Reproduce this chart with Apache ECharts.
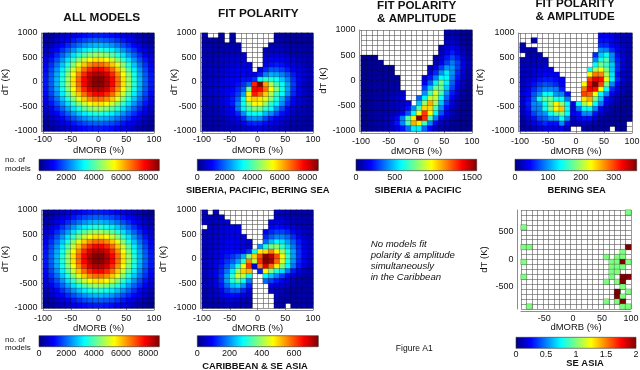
<!DOCTYPE html>
<html><head><meta charset="utf-8">
<script src="https://cdn.jsdelivr.net/npm/echarts@6/dist/echarts.min.js"></script>
<style>html,body{margin:0;padding:0;background:#fff}#c{width:640px;height:370px}</style>
</head><body><div id="c"></div>
<script>
const _ = null;
// bin centres (categories)
const dMorbBins = [-95,-85,-75,-65,-55,-45,-35,-25,-15,-5,5,15,25,35,45,55,65,75,85,95];
const dTBins = [950,850,750,650,550,450,350,250,150,50,-50,-150,-250,-350,-450,-550,-650,-750,-850,-950];
const seAsiaDMorbBins = [-85,-76,-66,-57,-47,-38,-28,-19,-9,0,10,19,29,38,48,57,67,76,86,95];
const seAsiaDTBins = [855,765,675,585,495,405,315,225,135,45,-45,-135,-225,-315,-405,-495,-585,-675,-765,-855];

// colour-bar ranges
const allModelsMax = 8800, allModelsStep = 2000;
const fitPolarityMax = 8800, fitPolarityStep = 2000;
const sibPacMax = 1560, sibPacStep = 500;
const beringMax = 370, beringStep = 100;
const carSeaMax = 750, carSeaStep = 200;
const seAsiaMax = 2, seAsiaStep = 0.5;

// number of models per cell, rows from dT=950 (top) to dT=-950 (bottom)
const allModels = [
[200,290,410,540,700,860,1020,1160,1260,1310,1310,1260,1160,1020,860,700,540,410,290,200],
[290,420,590,790,1020,1260,1490,1690,1840,1910,1910,1840,1690,1490,1260,1020,790,590,420,290],
[410,590,830,1110,1430,1760,2080,2360,2570,2680,2680,2570,2360,2080,1760,1430,1110,830,590,410],
[540,790,1110,1490,1920,2360,2800,3170,3450,3600,3600,3450,3170,2800,2360,1920,1490,1110,790,540],
[700,1020,1430,1920,2460,3040,3600,4080,4440,4630,4630,4440,4080,3600,3040,2460,1920,1430,1020,700],
[860,1260,1760,2360,3040,3750,4440,5040,5480,5720,5720,5480,5040,4440,3750,3040,2360,1760,1260,860],
[1020,1490,2080,2800,3600,4440,5260,5960,6490,6770,6770,6490,5960,5260,4440,3600,2800,2080,1490,1020],
[1160,1690,2360,3170,4080,5040,5960,6770,7360,7680,7680,7360,6770,5960,5040,4080,3170,2360,1690,1160],
[1260,1840,2570,3450,4440,5480,6490,7360,8010,8350,8350,8010,7360,6490,5480,4440,3450,2570,1840,1260],
[1310,1910,2680,3600,4630,5720,6770,7680,8350,8710,8710,8350,7680,6770,5720,4630,3600,2680,1910,1310],
[1310,1910,2680,3600,4630,5720,6770,7680,8350,8710,8710,8350,7680,6770,5720,4630,3600,2680,1910,1310],
[1260,1840,2570,3450,4440,5480,6490,7360,8010,8350,8350,8010,7360,6490,5480,4440,3450,2570,1840,1260],
[1160,1690,2360,3170,4080,5040,5960,6770,7360,7680,7680,7360,6770,5960,5040,4080,3170,2360,1690,1160],
[1020,1490,2080,2800,3600,4440,5260,5960,6490,6770,6770,6490,5960,5260,4440,3600,2800,2080,1490,1020],
[860,1260,1760,2360,3040,3750,4440,5040,5480,5720,5720,5480,5040,4440,3750,3040,2360,1760,1260,860],
[700,1020,1430,1920,2460,3040,3600,4080,4440,4630,4630,4440,4080,3600,3040,2460,1920,1430,1020,700],
[540,790,1110,1490,1920,2360,2800,3170,3450,3600,3600,3450,3170,2800,2360,1920,1490,1110,790,540],
[410,590,830,1110,1430,1760,2080,2360,2570,2680,2680,2570,2360,2080,1760,1430,1110,830,590,410],
[290,420,590,790,1020,1260,1490,1690,1840,1910,1910,1840,1690,1490,1260,1020,790,590,420,290],
[200,290,410,540,700,860,1020,1160,1260,1310,1310,1260,1160,1020,860,700,540,410,290,200]
];

const fitPolarity = [
[300,_,_,300,_,300,_,_,_,_,_,_,_,300,300,300,250,250,200,200],
[300,300,300,300,_,300,_,_,_,_,_,_,_,350,350,300,300,250,250,200],
[350,350,350,350,350,400,400,_,_,_,_,_,450,450,400,400,350,300,300,250],
[400,400,400,400,450,450,500,_,_,_,_,550,550,550,500,450,400,350,300,300],
[400,450,450,500,500,550,600,650,_,_,_,700,750,750,700,600,500,450,400,350],
[450,450,500,550,600,650,700,750,_,_,_,900,1000,1000,950,800,700,550,450,400],
[450,500,550,600,650,750,800,850,850,_,_,1000,1200,1300,1200,1000,850,700,550,450],
[500,550,600,650,750,850,950,1000,950,_,800,1400,1800,1800,1600,1300,1000,800,600,500],
[500,550,650,700,800,900,1000,1050,900,900,1300,2200,2600,2500,2200,1800,1300,950,700,550],
[500,600,650,750,850,950,1100,1200,1200,1500,3300,3700,3600,3400,2800,2200,1500,1000,650,500],
[500,600,700,800,900,1000,1200,1500,2000,7400,8800,6300,4800,3800,3300,2500,1600,950,600,450],
[500,600,700,800,900,1100,1400,1900,4300,7800,7700,6700,5500,4500,3500,2500,1500,900,600,450],
[500,600,700,800,1000,1200,1600,2500,5600,7500,6900,5900,4800,3800,3300,2300,1400,850,600,450],
[450,550,650,800,1000,1300,1900,3300,5600,5900,5700,5200,4500,3500,2600,1700,1100,750,550,400],
[450,500,600,750,950,1300,2200,3400,4600,5500,5400,4600,3700,3200,2300,1500,1000,650,500,400],
[400,450,550,650,850,1100,2100,3200,3900,4400,4300,3700,3300,2400,1700,1100,750,550,450,350],
[350,400,500,600,750,950,1400,2300,3200,3400,3300,2700,2300,1700,1200,850,600,450,400,350],
[350,400,450,500,600,750,1000,1400,2200,2400,2300,1700,1300,1000,800,650,500,400,350,300],
[300,350,400,450,500,600,700,950,1300,1400,1350,1150,950,750,600,500,400,350,300,300],
[300,300,350,400,450,500,550,650,750,850,850,750,650,550,450,400,350,300,300,250]
];

const sibPac = [
[_,_,_,_,_,_,_,_,_,_,_,_,_,_,_,55,70,55,35,30],
[_,_,_,_,_,_,_,_,_,_,_,_,_,_,_,68,90,68,40,30],
[_,_,_,_,_,_,_,_,_,_,_,_,_,_,_,90,120,90,54,30],
[_,_,_,_,_,_,_,_,_,_,_,_,_,_,77,128,170,128,77,43],
[_,_,_,_,_,_,_,_,_,_,_,_,_,_,104,173,230,173,104,58],
[30,30,30,_,_,_,_,_,_,_,_,_,_,75,135,225,300,225,135,75],
[30,30,35,35,_,_,_,_,_,_,_,_,_,95,171,285,380,285,171,95],
[30,35,35,40,40,40,_,_,_,_,_,_,85,165,282,423,423,282,165,85],
[35,35,40,40,45,45,_,_,_,_,_,_,140,252,420,560,420,252,140,73],
[35,40,40,45,50,50,50,_,_,_,_,117,228,390,585,585,390,228,117,60],
[35,40,45,50,55,55,60,_,_,_,_,190,342,570,760,570,342,190,99,53],
[35,40,45,50,60,65,70,_,_,_,_,294,504,756,756,504,294,151,76,40],
[35,40,45,55,65,75,90,110,_,_,_,414,690,920,690,414,230,120,64,40],
[35,40,50,55,70,85,110,150,_,_,343,588,882,882,588,343,176,88,50,35],
[35,40,50,60,75,90,100,110,150,_,495,825,1100,825,495,275,143,77,45,35],
[35,40,50,60,70,80,95,120,210,403,690,1035,1035,690,403,207,104,55,40,30],
[30,40,50,60,70,85,100,170,320,576,960,1280,960,576,320,166,90,50,35,30],
[30,40,50,65,80,110,200,390,700,1000,1560,1300,700,390,200,110,60,40,30,30],
[30,40,50,65,85,120,220,400,690,1100,1000,690,400,200,100,60,40,30,30,30],
[30,35,45,60,75,100,150,220,360,560,560,360,200,100,55,40,30,30,30,30]
];

const bering = [
[_,_,_,_,_,_,_,_,_,_,_,_,_,_,40,40,35,25,20,20],
[_,_,15,_,_,_,_,_,_,_,_,_,_,_,50,50,40,30,25,20],
[15,_,_,_,_,_,_,_,_,_,_,_,_,_,60,60,45,35,25,20],
[15,15,15,_,_,_,_,_,_,_,_,_,_,_,95,90,60,40,30,20],
[_,15,20,20,_,_,_,_,_,_,_,_,_,60,120,140,95,50,30,20],
[15,20,20,25,25,_,_,_,_,_,_,_,_,95,145,170,100,55,35,20],
[20,20,25,30,30,_,_,_,_,_,_,_,_,140,180,160,120,60,35,20],
[20,25,30,35,35,35,_,_,_,_,_,_,140,200,225,185,120,60,30,20],
[20,25,30,40,45,45,40,_,_,_,_,_,230,280,275,200,130,50,25,20],
[20,30,40,50,55,55,50,45,_,_,_,_,300,330,320,225,135,60,30,20],
[25,35,50,65,75,70,60,45,_,_,_,230,320,370,300,185,95,45,25,15],
[25,40,60,80,95,95,90,55,_,_,_,280,330,320,230,140,60,35,20,15],
[30,45,75,100,140,140,100,95,50,_,_,300,290,230,140,95,40,25,15,10],
[30,50,85,140,170,180,145,140,90,_,_,240,260,180,120,50,30,20,15,10],
[30,55,95,100,145,185,235,190,140,40,140,200,230,140,90,35,20,15,10,10],
[25,50,90,95,140,185,235,250,140,35,90,140,140,95,45,25,15,10,10,10],
[20,40,70,90,100,140,170,185,140,40,50,95,95,50,25,15,10,10,10,10],
[15,30,50,70,80,100,100,140,95,25,40,50,50,30,15,10,10,10,10,10],
[10,20,35,50,60,50,50,95,50,20,20,25,20,15,10,10,10,10,10,_],
[10,15,20,30,35,35,35,40,25,_,_,15,10,10,10,10,_,10,10,_]
];

const carSea = [
[40,_,40,_,_,_,_,_,_,_,_,_,_,40,40,40,30,30,30,30],
[40,40,40,50,_,_,_,_,_,_,_,_,_,50,50,45,40,35,30,30],
[40,45,50,55,60,_,_,_,_,_,_,_,70,70,65,55,45,40,35,30],
[_,45,50,60,65,70,70,_,_,_,_,_,90,100,95,80,65,50,40,35],
[40,50,55,65,70,75,75,_,_,_,_,90,120,140,140,120,95,70,50,40],
[40,50,60,70,75,80,80,70,_,_,_,120,160,190,190,165,125,90,60,45],
[40,50,60,70,80,85,80,70,60,_,_,170,230,280,260,210,160,110,70,50],
[40,50,65,75,85,90,85,75,60,_,200,300,360,380,320,250,180,120,80,55],
[45,55,70,85,95,100,100,100,130,300,480,500,560,480,400,300,210,130,85,55],
[45,55,70,90,110,130,160,220,380,500,600,740,700,600,460,320,210,130,85,55],
[45,55,75,100,130,160,210,320,560,420,620,750,720,580,440,300,200,120,80,50],
[45,60,80,110,150,210,300,460,620,60,560,680,580,480,380,280,180,110,70,45],
[45,60,85,120,180,270,400,500,520,_,120,470,380,300,260,180,110,70,45,35],
[45,60,85,130,210,320,440,420,300,_,_,280,240,190,140,95,65,45,35,30],
[40,55,80,125,210,300,350,290,180,_,_,170,140,110,85,60,45,35,30,30],
[40,50,70,110,170,230,250,200,120,_,_,_,80,65,55,45,35,30,30,30],
[35,45,60,90,130,160,160,120,80,_,_,_,55,45,40,35,30,30,30,30],
[30,40,50,70,90,100,95,75,55,_,_,_,_,40,35,30,30,30,30,30],
[30,35,40,50,60,65,60,50,40,_,_,_,_,35,30,30,30,30,30,30],
[30,30,35,40,45,45,45,40,35,_,_,_,_,30,30,_,30,30,30,30]
];

const seAsia = [
[_,_,_,_,_,_,_,_,_,_,_,_,_,_,_,_,_,_,_,1],
[_,_,_,_,_,_,_,_,_,_,_,_,_,_,_,_,_,_,_,_],
[_,_,_,_,_,_,_,_,_,_,_,_,_,_,_,_,_,_,_,_],
[1,_,_,_,_,_,_,_,_,_,_,_,_,_,_,_,_,_,_,_],
[_,_,_,_,_,_,_,_,_,_,_,_,_,_,_,_,_,_,_,_],
[_,_,_,_,_,_,_,_,_,_,_,_,_,_,_,_,_,_,_,_],
[_,_,_,_,_,_,_,_,_,_,_,_,_,_,_,_,_,_,_,_],
[1,1,_,_,_,_,_,_,_,_,_,_,_,_,_,_,_,_,_,2],
[_,_,_,_,_,_,_,_,_,_,_,_,_,_,_,_,_,_,1,_],
[_,_,_,_,_,_,_,_,_,_,_,_,_,_,_,1,_,1,1,_],
[1,_,_,_,_,_,_,_,_,_,_,_,_,_,_,_,1,1,2,1],
[_,_,_,_,_,_,_,_,_,_,_,_,_,_,_,_,1,1,1,_],
[_,_,_,_,_,_,_,_,_,_,_,_,_,_,_,_,1,1,_,_],
[1,_,_,_,_,_,_,_,_,_,_,_,_,_,_,_,1,_,2,2],
[_,_,_,_,_,_,_,_,_,_,_,_,_,_,_,1,_,1,2,_],
[_,_,_,_,_,_,_,_,_,_,_,_,_,_,_,_,_,_,1,_],
[_,_,_,_,_,_,_,_,_,_,_,_,_,_,_,_,_,2,_,1],
[_,_,_,_,_,_,_,_,_,_,_,_,_,_,_,_,_,2,1,_],
[_,_,_,_,_,_,_,_,_,_,_,_,_,_,_,1,_,1,2,_],
[_,1,_,_,_,_,_,_,_,_,_,_,_,_,_,_,_,_,1,1]
];

const jet = ['#00007F','#0000FF','#007FFF','#00FFFF','#7FFF7F','#FFFF00','#FF7F00','#FF0000','#7F0000'];
const FONT = "'Liberation Sans', Arial, Helvetica, sans-serif";
const TXT = '#111';
const AXC = '#8a8d99';

const panels = [
  {data: allModels, max: allModelsMax, rect: [43,33,111,98], xm: 2, xg: 12, yg: 31},
  {data: fitPolarity, max: fitPolarityMax, rect: [202,33,111,98], xm: 2, xg: 12, yg: 21},
  {data: sibPac, max: sibPacMax, rect: [361,30,111,101], xm: 4, xg: 13, yg: 30.5},
  {data: bering, max: beringMax, rect: [520,33,112,98], xm: 4, xg: 13, yg: 32.5},
  {data: allModels, max: allModelsMax, rect: [43,210,111,98], xm: 4.5, xg: 13.5, yg: 31},
  {data: carSea, max: carSeaMax, rect: [202,210,111,98], xm: 4.5, xg: 13.5, yg: 31.5},
  {data: seAsia, max: seAsiaMax, rect: [521,210,110,99], xm: 3, xg: 11, yg: 28, se: true}
];

const colorbars = [
  {rect: [39,159.3,120.3,11.4], max: allModelsMax, step: allModelsStep},
  {rect: [197.3,159.3,121,11.4], max: fitPolarityMax, step: fitPolarityStep},
  {rect: [356,159.3,120.7,11.4], max: sibPacMax, step: sibPacStep},
  {rect: [515,159.3,121.7,11.4], max: beringMax, step: beringStep},
  {rect: [39,335.7,120.3,11], max: allModelsMax, step: allModelsStep},
  {rect: [197.3,335.7,121,11], max: carSeaMax, step: carSeaStep},
  {rect: [516,337.3,120,11], max: seAsiaMax, step: seAsiaStep}
];

const grids = [], xAxes = [], yAxes = [], series = [], visualMaps = [];

panels.forEach(p => {
  const gi = grids.length;
  grids.push({left: p.rect[0], top: p.rect[1], width: p.rect[2], height: p.rect[3], containLabel: false, outerBoundsMode: 'none'});
  const xBins = p.se ? seAsiaDMorbBins : dMorbBins;
  const yBins = p.se ? seAsiaDTBins : dTBins;
  const catLine = {show: true, interval: 0, lineStyle: {color: '#555', width: 0.6}};
  const xc = xAxes.length;
  xAxes.push({gridIndex: gi, type: 'category', position: 'top', data: xBins.map(String), boundaryGap: true,
    axisLine: {show: false}, axisTick: {show: false, interval: 0}, axisLabel: {show: false, interval: 0}, splitLine: catLine, z: 1});
  const labelX = {fontSize: 9, color: TXT, fontFamily: FONT, margin: p.xm,
    formatter: p.se ? (v => (v % 50 === 0 ? String(v) : '')) : (v => String(v))};
  const vx = {gridIndex: gi, type: 'value', position: 'bottom', offset: 2,
    min: p.se ? -90 : -100, max: 100,
    axisLine: {show: true, onZero: false, lineStyle: {color: AXC, width: 1}},
    axisTick: {show: !p.se, inside: true, length: 2, lineStyle: {color: AXC}},
    axisLabel: labelX, splitLine: {show: false},
    name: 'dMORB (%)', nameLocation: 'middle', nameGap: p.xg, nameMoveOverlap: false,
    nameTextStyle: {fontSize: 9.5, color: TXT, fontFamily: FONT}};
  if (p.se) vx.splitNumber = 4; else vx.interval = 50;
  xAxes.push(vx);
  const yc = yAxes.length;
  yAxes.push({gridIndex: gi, type: 'category', position: 'right', inverse: true, data: yBins.map(String), boundaryGap: true,
    axisLine: {show: false}, axisTick: {show: false, interval: 0}, axisLabel: {show: false, interval: 0}, splitLine: catLine, z: 1});
  const vy = {gridIndex: gi, type: 'value', position: 'left', offset: p.se ? 4 : 2,
    min: p.se ? -900 : -1000, max: p.se ? 900 : 1000,
    axisLine: {show: true, onZero: false, lineStyle: {color: AXC, width: 1}},
    axisTick: {show: !p.se, inside: true, length: 2, lineStyle: {color: AXC}},
    axisLabel: {fontSize: 9, color: TXT, fontFamily: FONT, margin: 3.5,
      formatter: p.se ? (v => (v % 500 === 0 ? String(v) : '')) : (v => String(v))},
    splitLine: {show: false},
    name: 'dT (K)', nameLocation: 'middle', nameGap: p.yg, nameMoveOverlap: false,
    nameTextStyle: {fontSize: 9.5, color: TXT, fontFamily: FONT}};
  if (p.se) vy.splitNumber = 4; else vy.interval = 500;
  yAxes.push(vy);
  const data = [];
  p.data.forEach((row, r) => row.forEach((v, c) => { if (v !== null) data.push([c, r, v]); }));
  series.push({type: 'heatmap', xAxisIndex: xc, yAxisIndex: yc, data: data, silent: true,
    itemStyle: {borderColor: 'rgba(0,0,0,0.45)', borderWidth: 0.5}, emphasis: {disabled: true}, z: 2});
  visualMaps.push({type: 'continuous', show: false, min: 0, max: p.max, dimension: 2,
    seriesIndex: series.length - 1, inRange: {color: jet}});
});

colorbars.forEach(cb => {
  const gi = grids.length;
  grids.push({left: cb.rect[0], top: cb.rect[1], width: cb.rect[2], height: cb.rect[3], show: true,
    containLabel: false, outerBoundsMode: 'none',
    backgroundColor: {type: 'linear', x: 0, y: 0, x2: 1, y2: 0,
      colorStops: jet.map((c, k) => ({offset: k / (jet.length - 1), color: c}))},
    borderColor: '#333', borderWidth: 0.6});
  xAxes.push({gridIndex: gi, type: 'value', position: 'bottom', min: 0, max: cb.max, interval: cb.step,
    axisLine: {show: false}, axisTick: {show: false}, splitLine: {show: false},
    axisLabel: {fontSize: 9, color: TXT, fontFamily: FONT, margin: 2,
      formatter: v => (Math.abs(v / cb.step - Math.round(v / cb.step)) < 1e-6 ? String(v) : '')}});
  yAxes.push({gridIndex: gi, type: 'value', show: false, min: 0, max: 1});
});

const texts = [
  {t: 'ALL MODELS', x: 101.7, y: 17.3, s: 11.8, w: 'bold'},
  {t: 'FIT POLARITY', x: 258.3, y: 14, s: 11.8, w: 'bold'},
  {t: 'FIT POLARITY\n& AMPLITUDE', x: 416.7, y: 12, s: 11.6, w: 'bold', lh: 13},
  {t: 'FIT POLARITY\n& AMPLITUDE', x: 575, y: 10.3, s: 11.6, w: 'bold', lh: 13.5},
  {t: 'no. of\nmodels', x: 5, y: 164.3, s: 8, a: 'left', lh: 8.5},
  {t: 'SIBERIA, PACIFIC, BERING SEA', x: 257.7, y: 190, s: 9.4, w: 'bold'},
  {t: 'SIBERIA & PACIFIC', x: 418, y: 190, s: 9.4, w: 'bold'},
  {t: 'BERING SEA', x: 576.7, y: 190, s: 9.4, w: 'bold'},
  {t: 'no. of\nmodels', x: 5, y: 343.7, s: 8, a: 'left', lh: 8.5},
  {t: 'CARIBBEAN & SE ASIA', x: 255, y: 366.7, s: 9.4, w: 'bold'},
  {t: 'SE ASIA', x: 585, y: 363.3, s: 9.4, w: 'bold'},
  {t: 'No models fit\npolarity & amplitude\nsimultaneously\nin the Caribbean', x: 370.7, y: 260.7, s: 9.6, a: 'left', lh: 11, it: true},
  {t: 'Figure A1', x: 414.3, y: 348.3, s: 8.5}
];

const graphic = texts.map(o => ({type: 'text', x: o.x, y: o.y, silent: true, z: 10,
  style: {text: o.t, fill: TXT, fontFamily: FONT, fontSize: o.s, fontWeight: o.w || 'normal',
    fontStyle: o.it ? 'italic' : 'normal', align: o.a || 'center', verticalAlign: 'middle', lineHeight: o.lh || o.s * 1.2}}));

const chart = echarts.init(document.getElementById('c'), null, {renderer: 'canvas'});
chart.setOption({
  animation: false,
  backgroundColor: '#ffffff',
  textStyle: {fontFamily: FONT},
  grid: grids, xAxis: xAxes, yAxis: yAxes, visualMap: visualMaps, series: series, graphic: graphic
});
</script></body></html>
